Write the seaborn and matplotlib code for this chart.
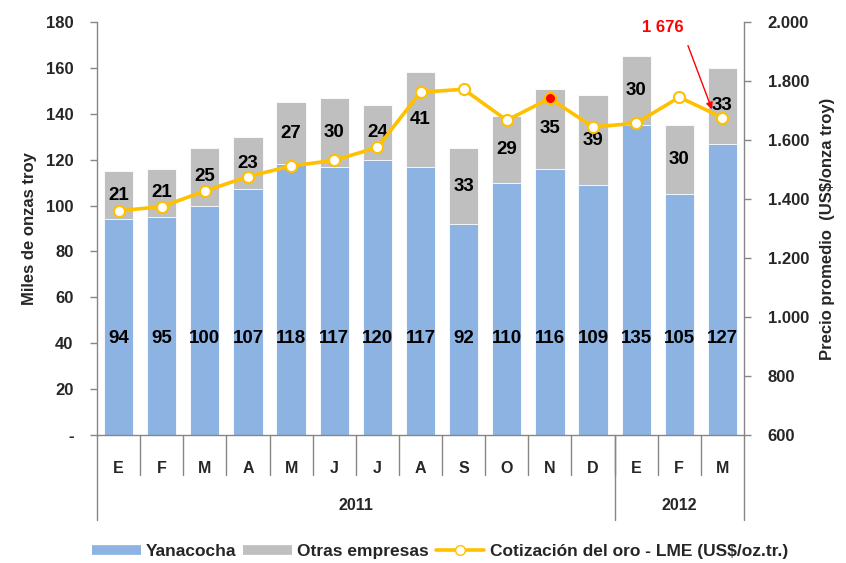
import numpy as np
import pandas as pd
import matplotlib
matplotlib.use("Agg")
import matplotlib.pyplot as plt
from matplotlib.lines import Line2D
import matplotlib.transforms as mtransforms
import seaborn as sns

months = ["E", "F", "M", "A", "M", "J", "J", "A", "S", "O", "N", "D", "E", "F", "M"]
years = ["2011", "2012"]
year_spans = [12, 3]
yanacocha = [94, 95, 100, 107, 118, 117, 120, 117, 92, 110, 116, 109, 135, 105, 127]
otras = [21, 21, 25, 23, 27, 30, 24, 41, 33, 29, 35, 39, 30, 30, 33]
oro = [1360, 1374, 1427, 1476, 1512, 1531, 1575, 1762, 1772, 1667, 1741, 1644, 1657, 1745, 1676]
left_ticks = [0, 20, 40, 60, 80, 100, 120, 140, 160, 180]
left_labels = ["-", "20", "40", "60", "80", "100", "120", "140", "160", "180"]
right_ticks = [600, 800, 1000, 1200, 1400, 1600, 1800, 2000]
right_labels = ["600", "800", "1.000", "1.200", "1.400", "1.600", "1.800", "2.000"]

sns.set_theme(style="white")
plt.rcParams["font.family"] = ["Liberation Sans", "DejaVu Sans"]
plt.rcParams["font.weight"] = "bold"

BLUE = "#8DB3E2"
GREY = "#BFBFBF"
GOLD = "#FFC000"
AXC = "#868686"

idx = [f"{i}" for i in range(len(months))]
df = pd.DataFrame({"pos": idx, "yan": yanacocha, "otr": otras})
df["total"] = df["yan"] + df["otr"]

fig = plt.figure(figsize=(8.46, 5.63), dpi=100)
ax = fig.add_axes([97 / 846, 1 - 435 / 563, (744 - 97) / 846, (435 - 22) / 563])

sns.barplot(data=df, x="pos", y="total", color=GREY, width=0.68, ax=ax,
            saturation=1, edgecolor="white", linewidth=0.6)
sns.barplot(data=df, x="pos", y="yan", color=BLUE, width=0.68, ax=ax,
            saturation=1, edgecolor="white", linewidth=0.6)

ax.set_xlim(-0.5, len(months) - 0.5)
ax.set_ylim(0, 180)
ax.set_yticks(left_ticks)
ax.set_yticklabels(left_labels, fontsize=12, fontweight="bold")
ax.set_xticks(range(len(months)))
ax.set_xticklabels(months, fontsize=11.5, fontweight="bold")
ax.tick_params(axis="x", length=0, pad=19)
ax.tick_params(axis="y", length=5, width=1, color=AXC, left=True, pad=12)
ax.set_xlabel("")
ax.set_ylabel("Miles de onzas troy", fontsize=12, fontweight="bold", labelpad=6)
for s in ["top", "right"]:
    ax.spines[s].set_visible(False)
for s in ["left", "bottom"]:
    ax.spines[s].set_color(AXC)
    ax.spines[s].set_linewidth(1)

# value labels
for i, (y, o) in enumerate(zip(yanacocha, otras)):
    ax.text(i, 42, f"{y}", ha="center", va="center", fontsize=13.5, fontweight="bold", color="black")
    ax.text(i, y + o / 2, f"{o}", ha="center", va="center", fontsize=13.5, fontweight="bold", color="black")

# category separators
trans = mtransforms.blended_transform_factory(ax.transData, ax.transAxes)
month_bottom = -40 / 413
year_bottom = -85 / 413
for b in np.arange(0.5, len(months) - 0.5, 1):
    ax.plot([b, b], [0, month_bottom], transform=trans, color=AXC, lw=1, clip_on=False)
pos = -0.5
year_edges = [pos]
for span in year_spans:
    pos += span
    year_edges.append(pos)
for b in year_edges:
    ax.plot([b, b], [0, year_bottom], transform=trans, color=AXC, lw=1, clip_on=False)
for k, yr in enumerate(years):
    c = (year_edges[k] + year_edges[k + 1]) / 2
    ax.text(c, -70 / 413, yr, transform=trans, ha="center", va="center",
            fontsize=11.5, fontweight="bold")

# gold price line
ax2 = ax.twinx()
sns.lineplot(x=np.arange(len(months)), y=oro, ax=ax2, color=GOLD, lw=2.6,
             marker="o", markersize=8, markerfacecolor="white",
             markeredgecolor=GOLD, markeredgewidth=1.5, zorder=5)
ax2.plot([10], [oro[10]], marker="o", markersize=8, markerfacecolor="red",
         markeredgecolor=GOLD, markeredgewidth=1.5, zorder=6, ls="none")
ax2.set_ylim(600, 2000)
ax2.set_yticks(right_ticks)
ax2.set_yticklabels(right_labels, fontsize=12, fontweight="bold")
ax2.tick_params(axis="y", length=5, width=1, color=AXC, right=True, pad=12)
ax2.set_ylabel("Precio promedio  (US$/onza troy)", fontsize=12, fontweight="bold", labelpad=8)
for s in ["top", "left", "bottom"]:
    ax2.spines[s].set_visible(False)
ax2.spines["right"].set_color(AXC)
ax2.spines["right"].set_linewidth(1)

# annotation
ax2.annotate("", xy=(13.78, 1695), xytext=(687, 563 - 43), textcoords="figure pixels",
             arrowprops=dict(arrowstyle="-|>", color="red", lw=1, mutation_scale=10))
fig.text(663 / 846, 1 - 28 / 563, "1 676", color="red", fontsize=12, fontweight="bold",
         ha="center", va="center")

# legend
handles = [
    Line2D([], [], color=BLUE, lw=7, solid_capstyle="butt"),
    Line2D([], [], color=GREY, lw=7, solid_capstyle="butt"),
    Line2D([], [], color=GOLD, lw=2.6, marker="o", markersize=7,
           markerfacecolor="white", markeredgecolor=GOLD),
]
labels = ["Yanacocha", "Otras empresas", "Cotización del oro - LME (US$/oz.tr.)"]
fig.legend(handles, labels, loc="center", bbox_to_anchor=(440 / 846, 1 - 551 / 563),
           ncol=3, frameon=False, handlelength=2.8, columnspacing=0.4,
           handletextpad=0.3, prop={"weight": "bold", "size": 12.5})

fig.savefig("out.png", dpi=100)
